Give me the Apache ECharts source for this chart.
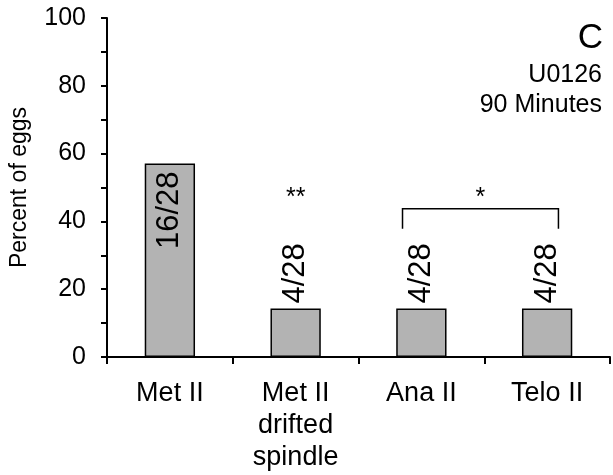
<!DOCTYPE html>
<html>
<head>
<meta charset="utf-8">
<script src="https://cdn.jsdelivr.net/npm/echarts@6/dist/echarts.min.js"></script>
<style>
  html, body { margin: 0; padding: 0; background: #fff; }
  #chart { width: 613px; height: 475px; }
</style>
</head>
<body>
<div id="chart"></div>
<script>
// data
const categories = ["Met II", "Met II\ndrifted\nspindle", "Ana II", "Telo II"];
const counts = [16, 4, 4, 4];
const totals = [28, 28, 28, 28];
const percents = [57.1, 14.3, 14.3, 14.3];
const yTicks = [0, 20, 40, 60, 80, 100];
// significance marks: [category, value, text]
const stars = [[1, 47, "**"]];
// brackets: [fromCategory, toCategory, topValue, bottomValue, text, textValue]
const brackets = [[2, 3, 43.7, 37.8, "*", 47]];
const titleLines = ["C", "U0126", "90 Minutes"];

const font = "Liberation Sans, Arial, sans-serif";
const chart = echarts.init(document.getElementById("chart"));

const barData = percents.map((v, i) => {
  const inside = i === 0; // tall bar carries its label inside
  return {
    value: v,
    label: {
      show: true,
      formatter: counts[i] + "/" + totals[i],
      rotate: 90,
      position: inside ? "insideTop" : "top",
      align: inside ? "right" : "left",
      verticalAlign: "middle",
      distance: inside ? 8 : 5,
      fontSize: 31,
      fontFamily: font,
      color: "#000",
    },
  };
});

const titleStyle = (size) => ({ fontFamily: font, fontSize: size, fontWeight: "normal", color: "#000" });

const option = {
  animation: false,
  backgroundColor: "#fff",
  title: [
    { text: titleLines[0], right: 10, top: 21, padding: 0, textStyle: titleStyle(35) },
    { text: titleLines[1], right: 11, top: 63, padding: 0, textStyle: titleStyle(25) },
    { text: titleLines[2], right: 11, top: 93, padding: 0, textStyle: titleStyle(25) },
  ],
  grid: { left: 102, right: 3, top: 18, bottom: 118 },
  xAxis: {
    type: "category",
    data: categories,
    axisLine: { lineStyle: { color: "#000", width: 2 } },
    axisTick: { show: true, length: 7, lineStyle: { color: "#000", width: 2 } },
    axisLabel: {
      interval: 0,
      margin: 21,
      fontSize: 27,
      lineHeight: 32,
      fontFamily: font,
      color: "#000",
    },
  },
  yAxis: {
    type: "value",
    min: yTicks[0],
    max: yTicks[yTicks.length - 1],
    interval: 20,
    name: "Percent of eggs",
    nameLocation: "middle",
    nameGap: 76,
    nameTextStyle: { fontFamily: font, fontSize: 23, color: "#000" },
    axisLine: { show: true, lineStyle: { color: "#000", width: 2 } },
    axisTick: { show: true, length: 6, lineStyle: { color: "#000", width: 2 } },
    minorTick: { show: true, splitNumber: 2, length: 6, lineStyle: { color: "#000", width: 2 } },
    splitLine: { show: false },
    axisLabel: { margin: 21, fontSize: 25, fontFamily: font, color: "#000" },
  },
  series: [
    {
      type: "bar",
      data: barData,
      barWidth: "40%",
      itemStyle: { color: "#b3b3b3", borderColor: "#000", borderWidth: 1.5 },
      z: 2,
    },
    {
      type: "custom",
      data: stars,
      renderItem: (params, api) => {
        const p = api.coord([api.value(0), api.value(1)]);
        return {
          type: "text",
          x: p[0],
          y: p[1],
          style: {
            text: stars[params.dataIndex][2],
            fontSize: 25,
            fontFamily: font,
            fill: "#000",
            align: "center",
            verticalAlign: "middle",
          },
        };
      },
      z: 3,
    },
    {
      type: "custom",
      data: brackets,
      renderItem: (params, api) => {
        const bw = api.size([1, 0])[0];
        const a = api.coord([api.value(0), api.value(2)]);
        const b = api.coord([api.value(1), api.value(2)]);
        const low = api.coord([api.value(0), api.value(3)])[1];
        const t = api.coord([api.value(0), api.value(5)])[1];
        const x1 = a[0] - bw * 0.15;
        const x2 = b[0] + bw * 0.09;
        return {
          type: "group",
          children: [
            {
              type: "polyline",
              shape: { points: [[x1, low], [x1, a[1]], [x2, a[1]], [x2, low]] },
              style: { stroke: "#000", lineWidth: 1.5, fill: null },
            },
            {
              type: "text",
              x: (x1 + x2) / 2,
              y: t,
              style: {
                text: brackets[params.dataIndex][4],
                fontSize: 25,
                fontFamily: font,
                fill: "#000",
                align: "center",
                verticalAlign: "middle",
              },
            },
          ],
        };
      },
      z: 3,
    },
  ],
};

chart.setOption(option);
</script>
</body>
</html>
